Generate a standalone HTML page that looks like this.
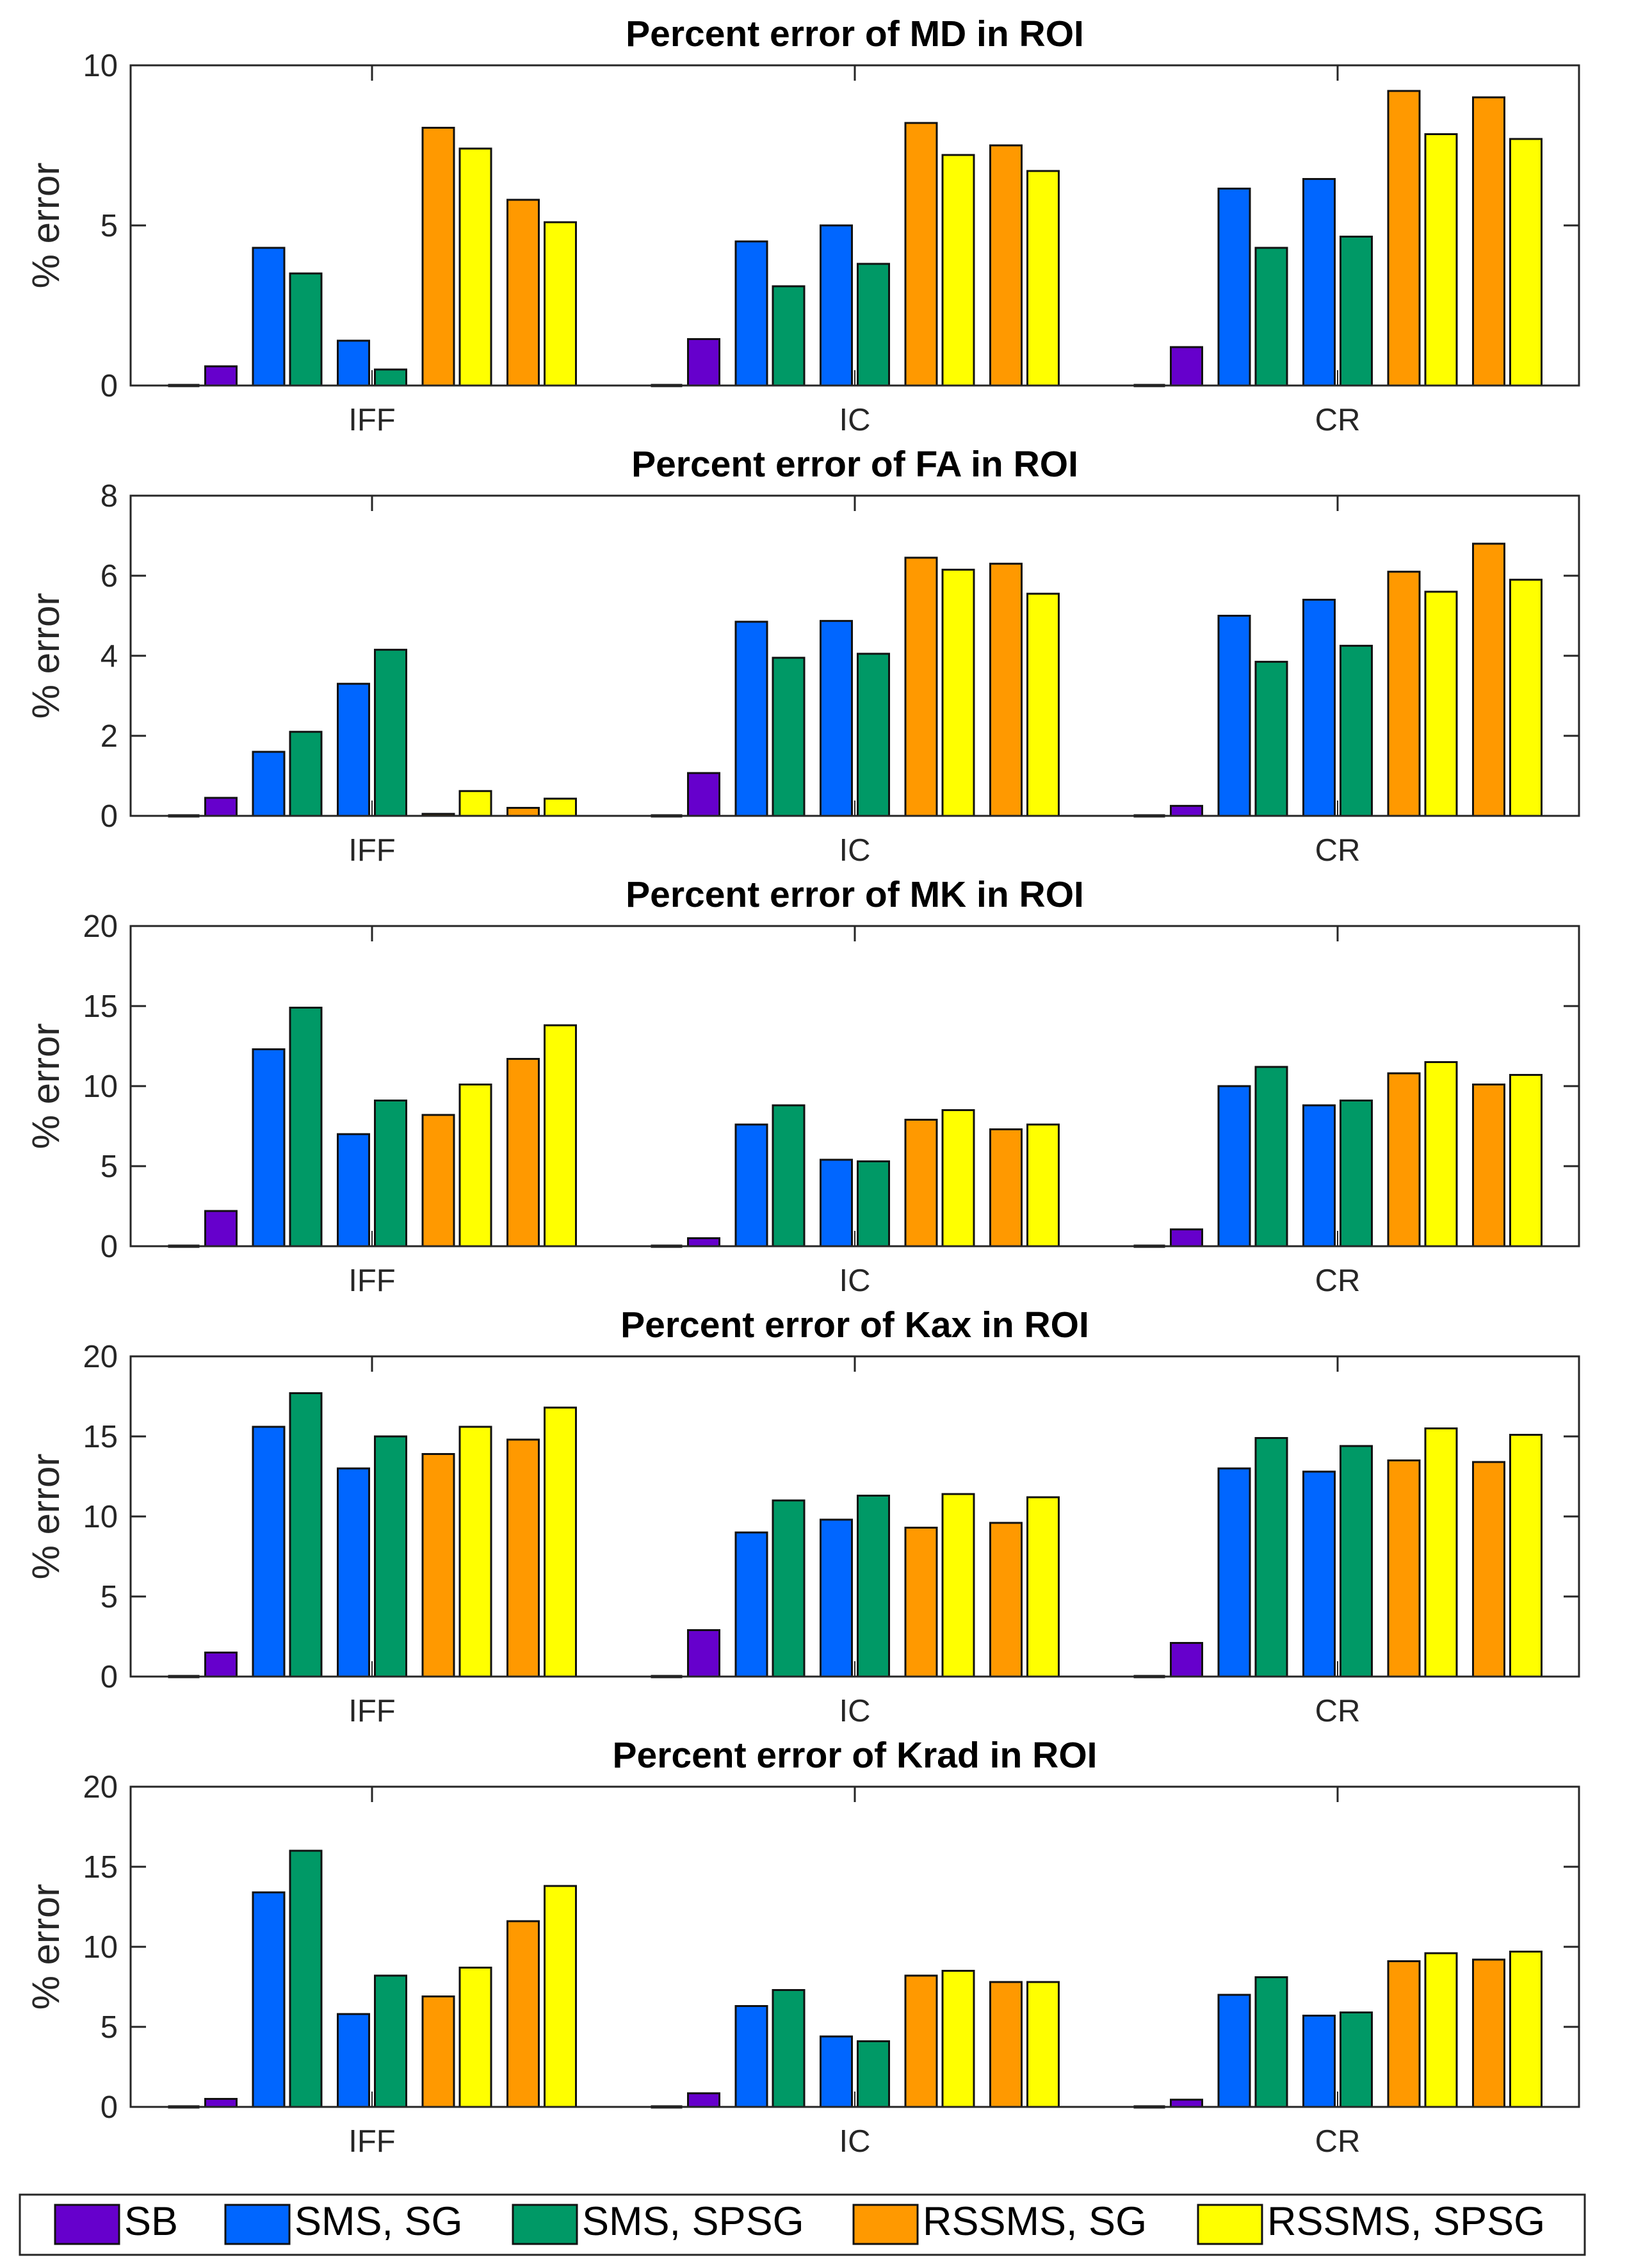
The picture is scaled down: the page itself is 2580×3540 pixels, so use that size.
<!DOCTYPE html>
<html><head><meta charset="utf-8"><style>
html,body{margin:0;padding:0;background:#fff;}
svg{display:block;font-family:"Liberation Sans",Arial,sans-serif;}
</style></head><body>
<svg id="fig" width="2580" height="3540" viewBox="0 0 2580 3540" xmlns="http://www.w3.org/2000/svg"></svg>
<script>
const categories = ["IFF","IC","CR"];
const panelTitles = ["Percent error of MD in ROI","Percent error of FA in ROI","Percent error of MK in ROI","Percent error of Kax in ROI","Percent error of Krad in ROI"];
const yMaxes = [10, 8, 20, 20, 20];
const yTickLabels = [[0,5,10],[0,2,4,6,8],[0,5,10,15,20],[0,5,10,15,20],[0,5,10,15,20]];
const barSeries = ["ref","SB","SMS, SG","SMS, SPSG","SMS, SG","SMS, SPSG","RSSMS, SG","RSSMS, SPSG","RSSMS, SG","RSSMS, SPSG"];
const legendLabels = ["SB","SMS, SG","SMS, SPSG","RSSMS, SG","RSSMS, SPSG"];
const mdValues = [[0,0.6,4.3,3.5,1.4,0.5,8.05,7.4,5.8,5.1],[0,1.45,4.5,3.1,5.0,3.8,8.2,7.2,7.5,6.7],[0,1.2,6.15,4.3,6.45,4.65,9.2,7.85,9.0,7.7]];
const faValues = [[0,0.45,1.6,2.1,3.3,4.15,0.05,0.62,0.2,0.43],[0,1.07,4.85,3.95,4.87,4.05,6.45,6.15,6.3,5.55],[0,0.25,5.0,3.85,5.4,4.25,6.1,5.6,6.8,5.9]];
const mkValues = [[0,2.2,12.3,14.9,7.0,9.1,8.2,10.1,11.7,13.8],[0,0.5,7.6,8.8,5.4,5.3,7.9,8.5,7.3,7.6],[0,1.05,10.0,11.2,8.8,9.1,10.8,11.5,10.1,10.7]];
const kaxValues = [[0,1.5,15.6,17.7,13.0,15.0,13.9,15.6,14.8,16.8],[0,2.9,9.0,11.0,9.8,11.3,9.3,11.4,9.6,11.2],[0,2.1,13.0,14.9,12.8,14.4,13.5,15.5,13.4,15.1]];
const kradValues = [[0,0.5,13.4,16.0,5.8,8.2,6.9,8.7,11.6,13.8],[0,0.85,6.3,7.3,4.4,4.1,8.2,8.5,7.8,7.8],[0,0.45,7.0,8.1,5.7,5.9,9.1,9.6,9.2,9.7]];
const panelValues = [mdValues, faValues, mkValues, kaxValues, kradValues];

const colors = ["#6600CC","#6600CC","#0066FF","#009966","#0066FF","#009966","#FF9900","#FFFF00","#FF9900","#FFFF00"];
const legendColors = ["#6600CC","#0066FF","#009966","#FF9900","#FFFF00"];
const NS = "http://www.w3.org/2000/svg";
const svg = document.getElementById('fig');
function mk(tag, attrs, parent){ const e=document.createElementNS(NS,tag); for(const k in attrs) e.setAttribute(k,attrs[k]); (parent||svg).appendChild(e); return e; }

const axL = 204, axR = 2466, axH = 500;
const panelTops = [102, 774, 1446, 2118, 2790];
const groupW = (axR-axL)/3;
function xScale(ci){ return axL + groupW*(ci+0.5); }
function barX(ci, bi){ const pair=Math.floor(bi/2), side=bi%2; return xScale(ci) + (pair-2)*132.5 + (side===0?-29:29); }

panelValues.forEach((vals, p) => {
  const top = panelTops[p], bot = top + axH, ymax = yMaxes[p];
  const yScale = v => bot - v/ymax*axH;
  const g = mk('g', {});
  
  
  const t = mk('text', {x:(axL+axR)/2, y:top-30, 'font-size':57, 'font-weight':'bold', 'text-anchor':'middle', fill:'#000'}, g);
  t.textContent = panelTitles[p];
  
  
  // bars
  vals.forEach((row, ci) => {
    row.forEach((v, bi) => {
      const cx = barX(ci, bi), y = yScale(v);
      let r;
      if (v <= 0) {
        r = mk('line', {x1:cx-24.5, x2:cx+24.5, y1:bot, y2:bot, stroke:'#111', 'stroke-width':5}, g);
      } else {
        r = mk('rect', {x:cx-24.5, y:y, width:49, height:bot-y, fill:colors[bi], stroke:'#111', 'stroke-width':3}, g);
      }
      
      
    });
  });
  const box = mk('rect', {x:axL, y:top, width:axR-axL, height:axH, fill:'none', stroke:'#262626', 'stroke-width':3}, g);
  
  
  yTickLabels[p].forEach(tv => {
    const y = yScale(tv);
    mk('line', {x1:axL, x2:axL+24, y1:y, y2:y, stroke:'#262626', 'stroke-width':3}, g);
    mk('line', {x1:axR-24, x2:axR, y1:y, y2:y, stroke:'#262626', 'stroke-width':3}, g);
    const tl = mk('text', {x:axL-20, y:y+17, 'font-size':49, 'text-anchor':'end', fill:'#262626'}, g);
    tl.textContent = tv;
    
    
  });
  categories.forEach((c, ci) => {
    const x = xScale(ci);
    mk('line', {x1:x, x2:x, y1:top, y2:top+24, stroke:'#262626', 'stroke-width':3}, g);
    mk('line', {x1:x, x2:x, y1:bot-24, y2:bot, stroke:'#262626', 'stroke-width':2}, g);
    const cl = mk('text', {x:x, y:bot+70, 'font-size':49, 'text-anchor':'middle', fill:'#262626'}, g);
    cl.textContent = c;
    
    
  });
  const yl = mk('text', {x:0, y:0, 'font-size':60, 'text-anchor':'middle', fill:'#262626', transform:'translate(92,'+(top+axH/2)+') rotate(-90)'}, g);
  yl.textContent = '% error';
  
  
});

const lg = mk('g', {});


mk('rect', {x:31, y:3427, width:2444, height:94, fill:'#fff', stroke:'#262626', 'stroke-width':3}, lg);
const patchX = [86, 352, 801, 1333, 1871];
legendLabels.forEach((lab, i) => {
  const e = mk('g', {}, lg);
  
  
  mk('rect', {x:patchX[i], y:3443, width:100, height:61, fill:legendColors[i], stroke:'#111', 'stroke-width':3}, e);
  const tx = mk('text', {x:patchX[i]+108, y:3490, 'font-size':63, fill:'#000'}, e);
  tx.textContent = lab;
});
</script>
</body></html>
